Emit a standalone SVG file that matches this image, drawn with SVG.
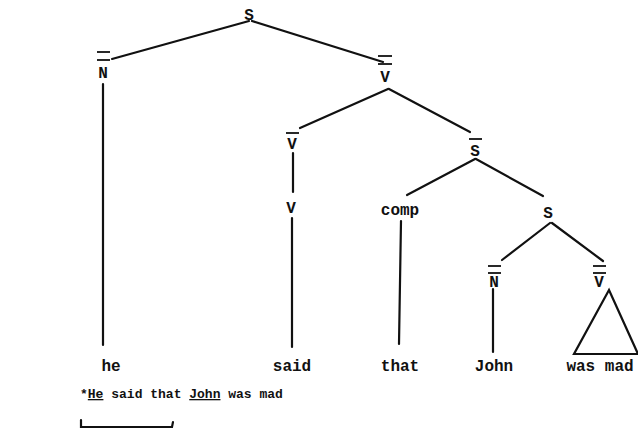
<svg xmlns="http://www.w3.org/2000/svg" width="638" height="436" viewBox="0 0 638 436">
  <style>
    .lbl { font-family: "Liberation Mono", "DejaVu Sans Mono", monospace; font-weight: bold; font-size: 16px; fill: #111; text-anchor: middle; }
    .sent { font-family: "Liberation Mono", "DejaVu Sans Mono", monospace; font-weight: bold; font-size: 13px; fill: #111; }
    .ul { text-decoration: underline; }
    .edge { stroke: #111; stroke-width: 2.2; fill: none; stroke-linecap: round; }
    .bar { stroke: #111; stroke-width: 1.8; }
  </style>
  <rect width="638" height="436" fill="#fff"/>

  <!-- branches -->
  <g id="connectors">
    <line class="edge" x1="249" y1="21" x2="112" y2="59"/>
    <line class="edge" x1="252" y1="21" x2="383" y2="62"/>
    <line class="edge" x1="103" y1="84" x2="103" y2="345"/>
    <line class="edge" x1="388" y1="89" x2="300" y2="128"/>
    <line class="edge" x1="389" y1="89" x2="470" y2="132"/>
    <line class="edge" x1="293" y1="153" x2="293" y2="192"/>
    <line class="edge" x1="292" y1="218" x2="292" y2="347"/>
    <line class="edge" x1="475" y1="159" x2="407" y2="195"/>
    <line class="edge" x1="476" y1="159" x2="543" y2="196"/>
    <line class="edge" x1="401" y1="221" x2="399" y2="344"/>
    <line class="edge" x1="550" y1="223" x2="502" y2="260"/>
    <line class="edge" x1="552" y1="223" x2="603" y2="261"/>
    <line class="edge" x1="493" y1="289" x2="493" y2="352"/>
    <polygon class="edge" points="609,290 574,354 638,354"/>
  </g>

  <g id="S-top">
    <text class="lbl" x="249" y="20">S</text>
  </g>
  <g id="N-bar-bar">
    <line class="bar" x1="97" y1="52" x2="110" y2="52"/>
    <line class="bar" x1="97" y1="60" x2="110" y2="60"/>
    <text class="lbl" x="103" y="78">N</text>
  </g>
  <g id="V-bar-bar">
    <line class="bar" x1="378" y1="56" x2="392" y2="56"/>
    <line class="bar" x1="378" y1="64" x2="392" y2="64"/>
    <text class="lbl" x="385" y="82">V</text>
  </g>
  <g id="V-bar">
    <line class="bar" x1="286" y1="133" x2="299" y2="133"/>
    <text class="lbl" x="292" y="149">V</text>
  </g>
  <g id="S-bar">
    <line class="bar" x1="469" y1="139" x2="482" y2="139"/>
    <text class="lbl" x="475" y="156">S</text>
  </g>
  <g id="V">
    <text class="lbl" x="291" y="213">V</text>
  </g>
  <g id="comp">
    <text class="lbl" x="400" y="215">comp</text>
  </g>
  <g id="S-lower">
    <text class="lbl" x="548" y="218">S</text>
  </g>
  <g id="N-bar-bar-lower">
    <line class="bar" x1="488" y1="266" x2="501" y2="266"/>
    <line class="bar" x1="488" y1="273" x2="501" y2="273"/>
    <text class="lbl" x="494" y="287">N</text>
  </g>
  <g id="V-bar-bar-lower">
    <line class="bar" x1="593" y1="266" x2="606" y2="266"/>
    <line class="bar" x1="593" y1="273" x2="606" y2="273"/>
    <text class="lbl" x="599" y="287">V</text>
  </g>

  <g id="words">
    <text class="lbl" x="111" y="371">he</text>
    <text class="lbl" x="292" y="371">said</text>
    <text class="lbl" x="400" y="371">that</text>
    <text class="lbl" x="494" y="371">John</text>
    <text class="lbl" x="600" y="371">was mad</text>
  </g>

  <g id="sentence">
    <text class="sent" x="80" y="398">*<tspan class="ul">He</tspan> said that <tspan class="ul">John</tspan> was mad</text>
  </g>

  <g id="bracket">
    <polyline class="edge" stroke-width="1.8" points="81,420 81,427 172,427 173,422"/>
  </g>
</svg>
